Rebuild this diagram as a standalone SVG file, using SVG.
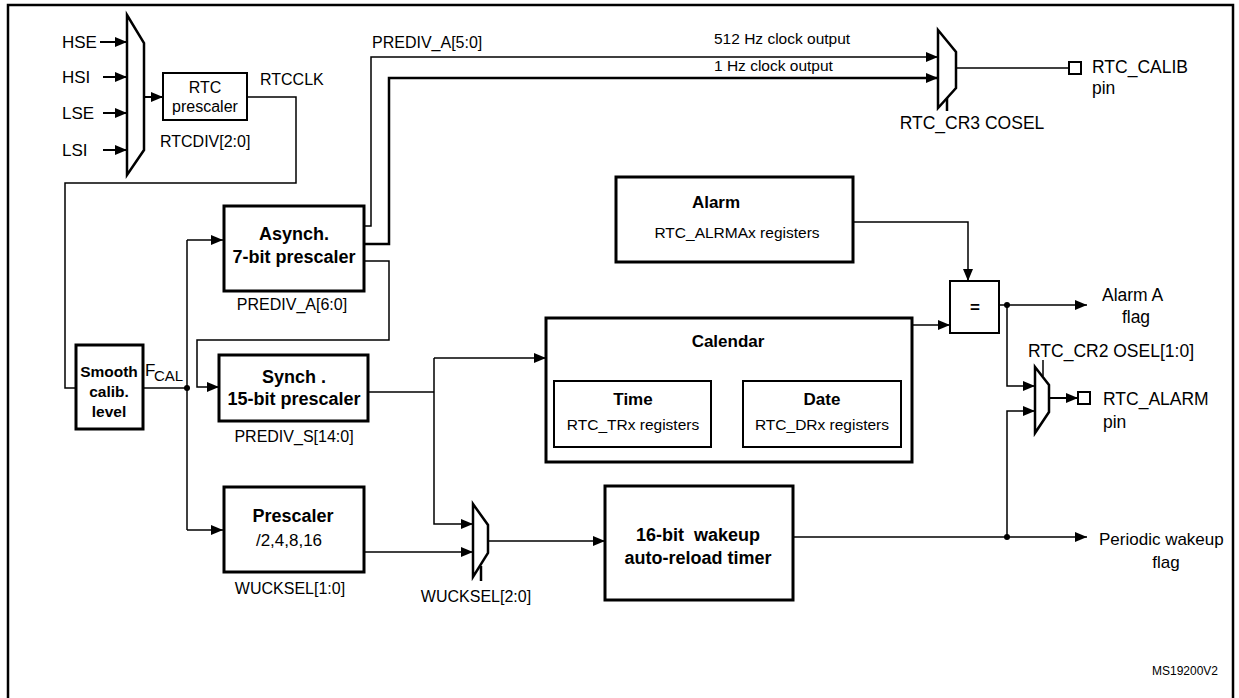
<svg xmlns="http://www.w3.org/2000/svg" width="1239" height="698" viewBox="0 0 1239 698">
<style>
text{font-family:"Liberation Sans",Arial,sans-serif;fill:#000}
.b{font-weight:bold}
.c{text-anchor:middle}
.box{fill:#fff;stroke:#000;stroke-width:3}
.box2{fill:#fff;stroke:#000;stroke-width:2}
.w{fill:none;stroke:#000;stroke-width:1.5}
.wt{fill:none;stroke:#000;stroke-width:2.5}
.mux{fill:#fff;stroke:#000;stroke-width:2.5;stroke-linejoin:miter}
</style>
<defs>
<marker id="a" viewBox="0 0 12 10" refX="12" refY="5" markerWidth="12" markerHeight="10" markerUnits="userSpaceOnUse" orient="auto">
<path d="M0,0 L12,5 L0,10 z" fill="#000"/>
</marker>
</defs>
<rect width="1239" height="698" fill="#fff"/>
<rect x="8" y="5" width="1225" height="710" fill="none" stroke="#000" stroke-width="2.5"/>

<g id="connectors">
<path class="w" d="M100,42 H127" marker-end="url(#a)" style="stroke-width:2"/>
<path class="w" d="M103,77 H127" marker-end="url(#a)" style="stroke-width:2"/>
<path class="w" d="M103,113 H127" marker-end="url(#a)" style="stroke-width:2"/>
<path class="w" d="M103,150 H127" marker-end="url(#a)" style="stroke-width:2"/>
<path class="w" d="M144,97 H163" marker-end="url(#a)" style="stroke-width:2"/>
<path class="w" d="M247,97 H296 V183 H65 V388 H76"/>
<path class="w" d="M143,388 H187"/>
<circle cx="187" cy="388" r="3"/>
<path class="w" d="M187,240 V530"/>
<path class="w" d="M187,240 H223" marker-end="url(#a)"/>
<path class="w" d="M187,530 H223" marker-end="url(#a)"/>
<path class="w" d="M364,226 H371 V57 H938" marker-end="url(#a)"/>
<path class="wt" d="M364,244 H389 V78 H938" marker-end="url(#a)"/>
<path class="w" d="M364,261 H389 V340 H197 V387 H219" marker-end="url(#a)"/>
<path class="w" d="M368,392 H434"/>
<path class="w" d="M434,358 V524 H473" marker-end="url(#a)"/>
<path class="w" d="M434,358 H546" marker-end="url(#a)"/>
<path class="w" d="M364,552 H473" marker-end="url(#a)"/>
<path class="w" d="M488,541 H605" marker-end="url(#a)"/>
<path class="w" d="M793,537 H1087" marker-end="url(#a)"/>
<circle cx="1007" cy="537" r="3"/>
<path class="w" d="M1007,537 V411 H1035" marker-end="url(#a)"/>
<path class="w" d="M853,222 H968 V281" marker-end="url(#a)"/>
<path class="w" d="M912,325 H950" marker-end="url(#a)"/>
<path class="w" d="M999,305 H1087" marker-end="url(#a)"/>
<circle cx="1007" cy="305" r="3"/>
<path class="w" d="M1007,305 V386 H1035" marker-end="url(#a)"/>
<path class="w" d="M1049,398 H1078" marker-end="url(#a)" style="stroke-width:2"/>
<path class="w" d="M956,68 H1069"/>
<path class="w" d="M947,96 V111" style="stroke-width:2.5"/>
<path class="w" d="M481,566 V581" style="stroke-width:2.5"/>
<path class="w" d="M1043,360 V376" style="stroke-width:1.5"/>
</g>

<g id="inputs">
<text x="62" y="48" font-size="17">HSE</text>
<text x="62" y="83" font-size="17">HSI</text>
<text x="62" y="119" font-size="17">LSE</text>
<text x="62" y="156" font-size="17">LSI</text>
</g>

<g id="mux-clk"><path class="mux" d="M127,15 L144,43 V150 L127,175 Z"/></g>

<g id="rtc-prescaler">
<rect class="box2" x="163" y="73" width="84" height="47"/>
<text class="c" x="205" y="93" font-size="16">RTC</text>
<text class="c" x="205" y="112" font-size="16">prescaler</text>
<text x="160" y="147" font-size="16">RTCDIV[2:0]</text>
<text x="260" y="85" font-size="16">RTCCLK</text>
</g>

<g id="smooth">
<rect class="box" x="76" y="345" width="67" height="84"/>
<text class="c b" x="109" y="377" font-size="15.5">Smooth</text>
<text class="c b" x="109" y="397" font-size="15.5">calib.</text>
<text class="c b" x="109" y="417" font-size="15.5">level</text>
<text x="145" y="376" font-size="17">F</text>
<text x="154" y="381" font-size="15">CAL</text>
</g>

<g id="asynch">
<rect class="box" x="224" y="206" width="140" height="85"/>
<text class="c b" x="294" y="240" font-size="18">Asynch.</text>
<text class="c b" x="294" y="263" font-size="18">7-bit prescaler</text>
<text class="c" x="292" y="310" font-size="16">PREDIV_A[6:0]</text>
<text x="372" y="48" font-size="16">PREDIV_A[5:0]</text>
</g>

<g id="synch">
<rect class="box" x="219" y="355" width="149" height="66"/>
<text class="c b" x="294" y="383" font-size="18">Synch .</text>
<text class="c b" x="294" y="405" font-size="18">15-bit prescaler</text>
<text class="c" x="294" y="442" font-size="16">PREDIV_S[14:0]</text>
</g>

<g id="prescaler">
<rect class="box" x="224" y="487" width="140" height="85"/>
<text class="c b" x="293" y="522" font-size="18">Prescaler</text>
<text class="c" x="289" y="546" font-size="17">/2,4,8,16</text>
<text class="c" x="290" y="594" font-size="16">WUCKSEL[1:0]</text>
</g>

<g id="mux-wuck">
<path class="mux" d="M473,504 L488,525 V553 L473,577 Z"/>
<text class="c" x="476" y="602" font-size="16">WUCKSEL[2:0]</text>
</g>

<g id="wakeup-timer">
<rect class="box" x="605" y="486" width="188" height="114"/>
<text class="c b" x="698" y="541" font-size="18" xml:space="preserve">16-bit  wakeup</text>
<text class="c b" x="698" y="564" font-size="18">auto-reload timer</text>
</g>

<g id="calendar">
<rect class="box" x="546" y="318" width="366" height="144"/>
<text class="c b" x="728" y="347" font-size="17">Calendar</text>
<rect class="box2" x="554" y="381" width="157" height="66"/>
<text class="c b" x="633" y="405" font-size="17">Time</text>
<text class="c" x="633" y="430" font-size="15.5">RTC_TRx registers</text>
<rect class="box2" x="743" y="381" width="158" height="66"/>
<text class="c b" x="822" y="405" font-size="17">Date</text>
<text class="c" x="822" y="430" font-size="15.5">RTC_DRx registers</text>
</g>

<g id="alarm">
<rect class="box" x="616" y="177" width="237" height="85"/>
<text class="c b" x="716" y="208" font-size="17">Alarm</text>
<text class="c" x="737" y="238" font-size="15.5">RTC_ALRMAx registers</text>
</g>

<g id="compare">
<rect class="box2" x="950" y="281" width="49" height="52"/>
<text class="c b" x="975" y="313" font-size="17">=</text>
</g>

<g id="alarm-flag">
<text x="1102" y="301" font-size="17.5">Alarm A</text>
<text class="c" x="1136" y="323" font-size="17.5">flag</text>
</g>

<g id="mux-alarm">
<path class="mux" d="M1035,367 L1049,385 V412 L1035,433 Z"/>
<text x="1028" y="357" font-size="17.5">RTC_CR2 OSEL[1:0]</text>
</g>

<g id="alarm-pin">
<rect x="1078" y="392" width="12" height="12" fill="#fff" stroke="#000" stroke-width="2"/>
<text x="1103" y="405" font-size="17.5">RTC_ALARM</text>
<text x="1103" y="428" font-size="17.5">pin</text>
</g>

<g id="wakeup-flag">
<text x="1099" y="545" font-size="17">Periodic wakeup</text>
<text class="c" x="1166" y="568" font-size="17">flag</text>
</g>

<g id="mux-cosel">
<path class="mux" d="M938,30 L956,52 V88 L938,108 Z"/>
<text x="714" y="44" font-size="15.5">512 Hz clock output</text>
<text x="714" y="71" font-size="15.5">1 Hz clock output</text>
<text class="c" x="972" y="129" font-size="17.5">RTC_CR3 COSEL</text>
</g>

<g id="calib-pin">
<rect x="1069" y="62" width="12" height="12" fill="#fff" stroke="#000" stroke-width="2"/>
<text x="1092" y="73" font-size="17.5">RTC_CALIB</text>
<text x="1092" y="94" font-size="17.5">pin</text>
</g>

<text x="1152" y="675" font-size="12">MS19200V2</text>
</svg>
